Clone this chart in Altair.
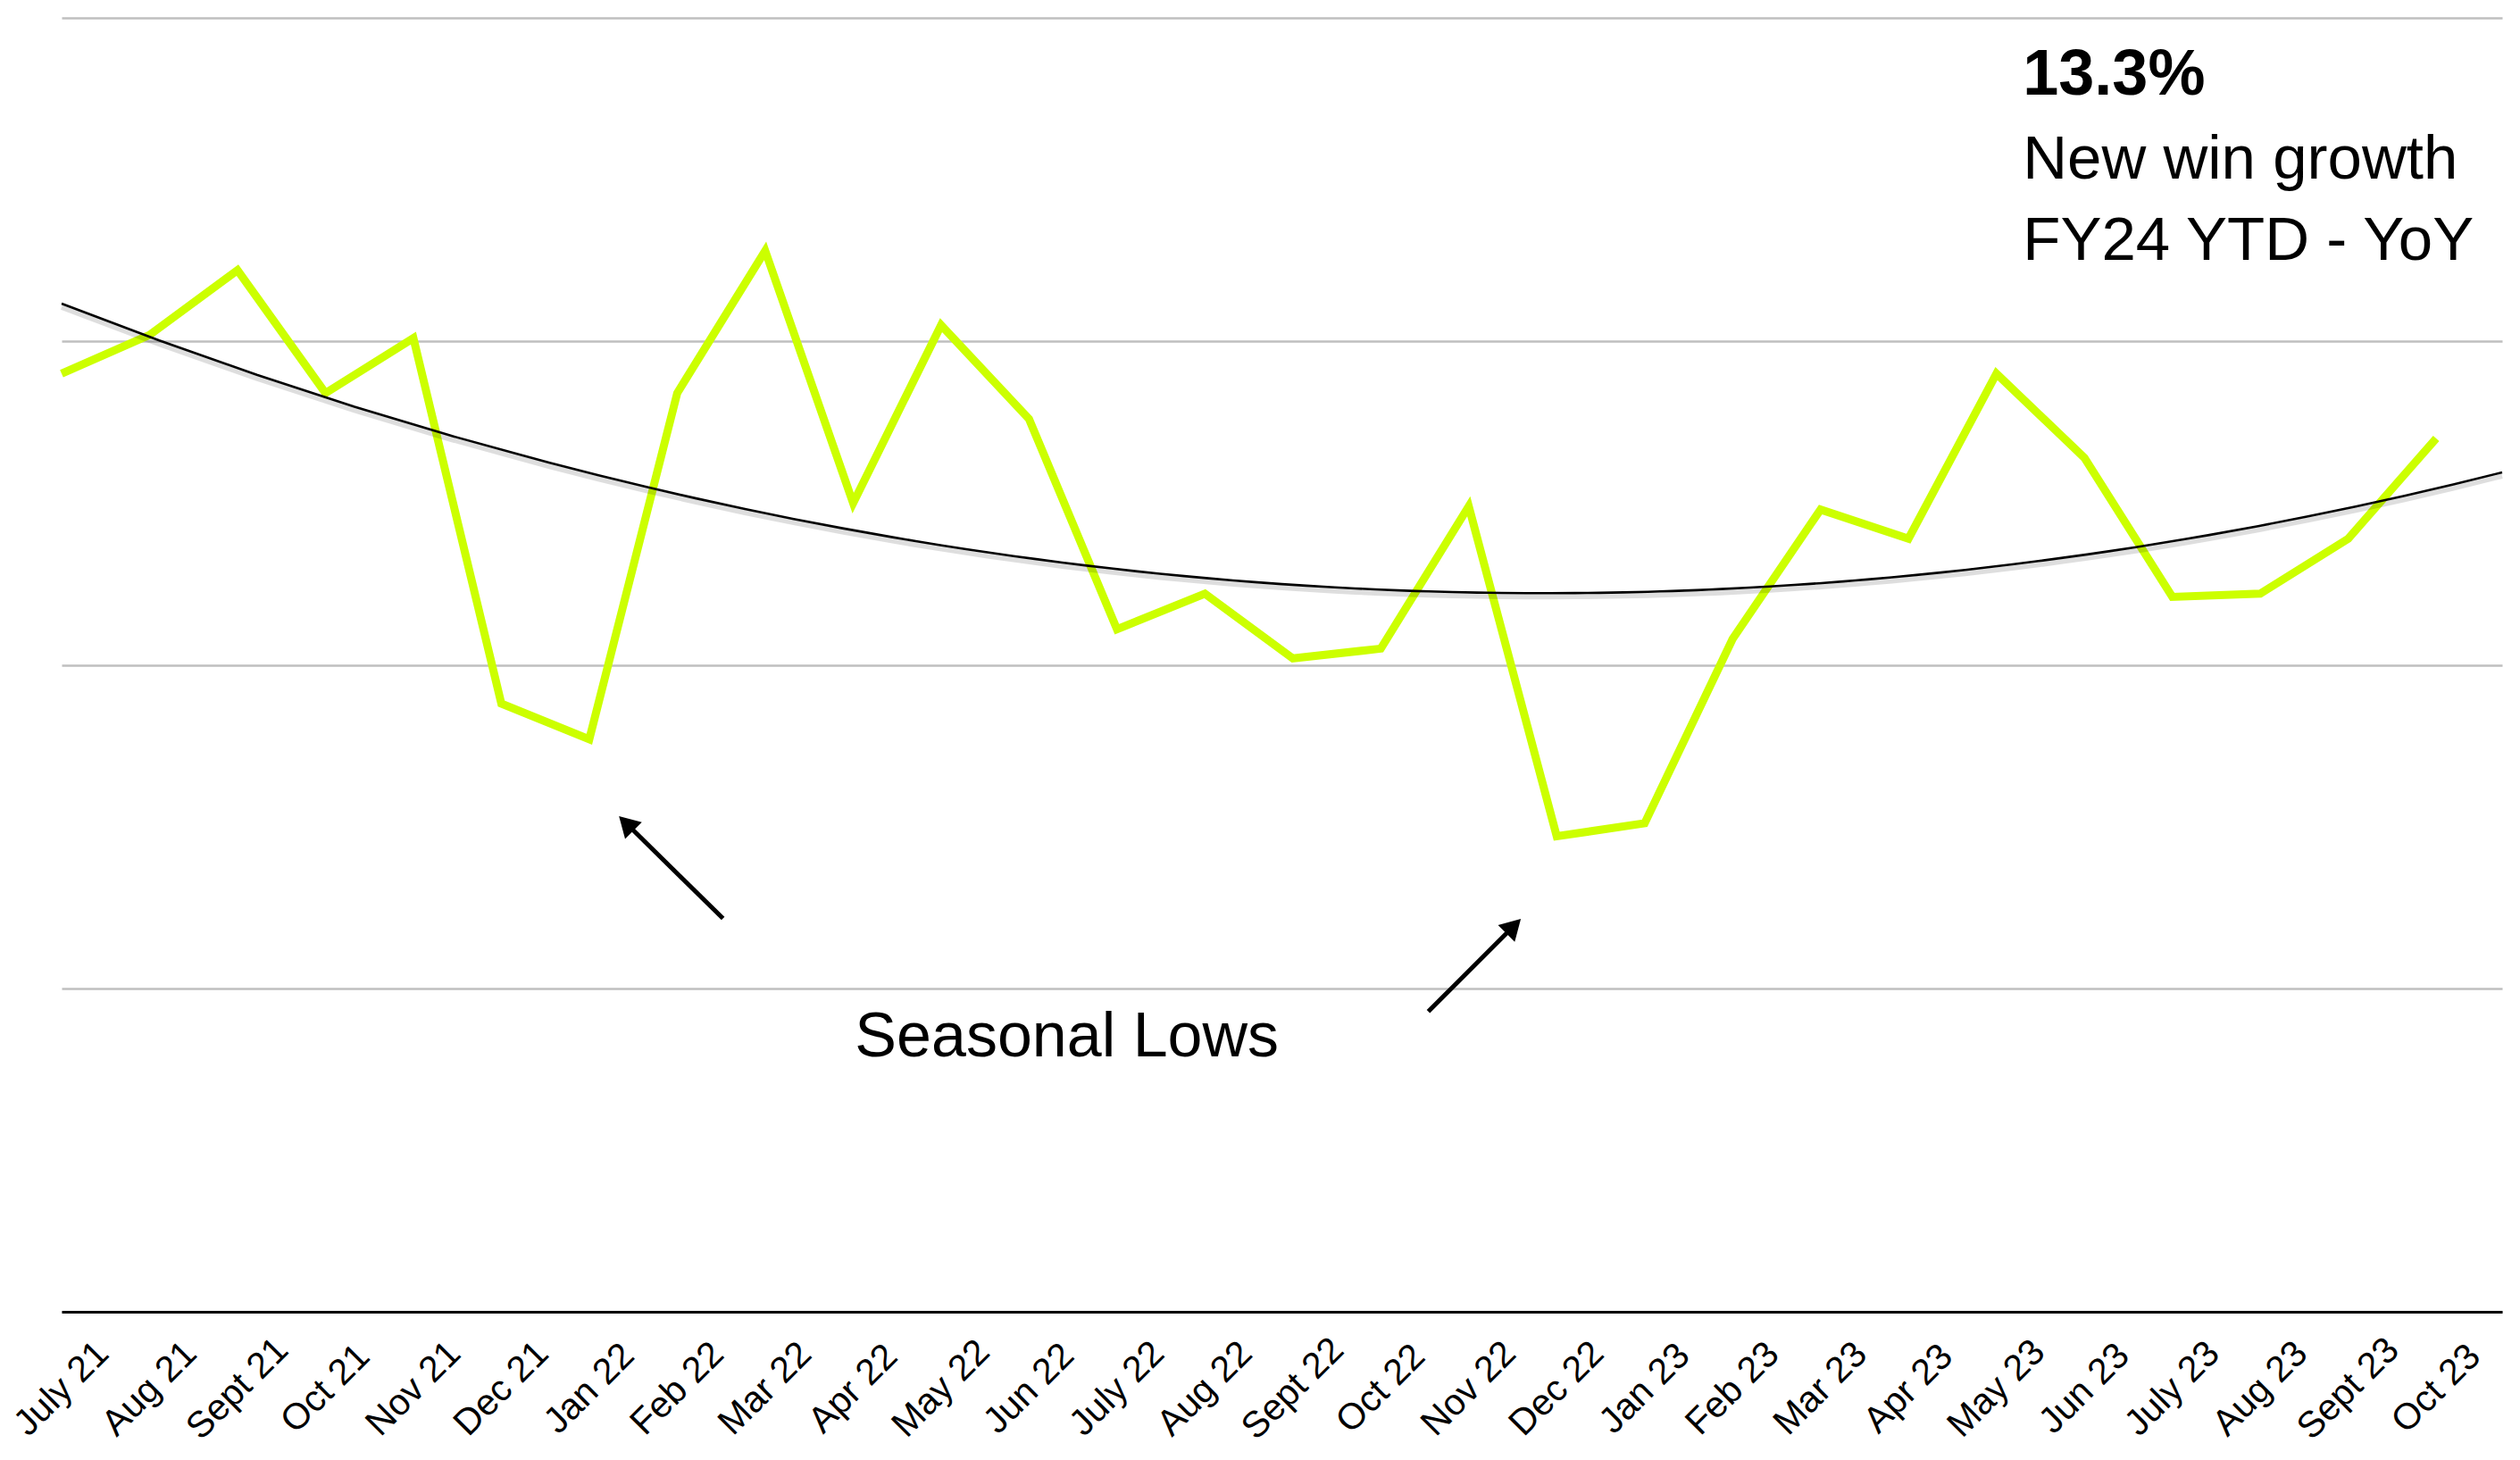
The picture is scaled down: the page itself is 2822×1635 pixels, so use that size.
import altair as alt
import pandas as pd

months = ["July 21", "Aug 21", "Sept 21", "Oct 21", "Nov 21", "Dec 21", "Jan 22",
          "Feb 22", "Mar 22", "Apr 22", "May 22", "Jun 22", "July 22", "Aug 22",
          "Sept 22", "Oct 22", "Nov 22", "Dec 22", "Jan 23", "Feb 23", "Mar 23",
          "Apr 23", "May 23", "Jun 23", "July 23", "Aug 23", "Sept 23", "Oct 23"]
win_growth = [2.90, 3.02, 3.22, 2.84, 3.01, 1.88, 1.77, 2.84, 3.28, 2.50, 3.05, 2.76,
              2.11, 2.22, 2.02, 2.05, 2.49, 1.47, 1.51, 2.08, 2.48, 2.39, 2.90, 2.64,
              2.21, 2.22, 2.39, 2.70]
y_ticks = [0, 1, 2, 3, 4]

# annotation anchors (data units)
arrow_tail_x = [7.52, 15.54]
arrow_tail_y = [1.216, 0.928]
arrow_head_x = [6.42, 16.51]
arrow_head_y = [1.510, 1.192]
arrow_angle = [315, 45]
note_lines = ["13.3%", "New win growth", "FY24 YTD - YoY"]
note_y = [3.762, 3.502, 3.253]
note_x = 22.30
lows_text = "Seasonal Lows"
lows_x, lows_y = 9.02, 0.789

X_MAX = 27.75
FONT = "Liberation Sans"

df = pd.DataFrame({"i": list(range(len(months))), "v": win_growth, "m": months})
arrows = pd.DataFrame({"x": arrow_tail_x, "y": arrow_tail_y, "x2": arrow_head_x,
                       "y2": arrow_head_y, "a": arrow_angle})
notes = pd.DataFrame({"t": note_lines, "y": note_y, "x": [note_x] * 3,
                      "w": ["bold", "normal", "normal"]})
lows = pd.DataFrame({"t": [lows_text], "x": [lows_x], "y": [lows_y]})

label_expr = "[" + ",".join("'" + m + "'" for m in months) + "][datum.value]"

xs = alt.Scale(domain=[0, X_MAX], nice=False, zero=False)
ys = alt.Scale(domain=[0, 4], nice=False)

x_axis = alt.Axis(values=list(range(len(months))), labelExpr=label_expr, labelAngle=-45,
                  labelAlign="center", labelBaseline="middle", labelPadding=86,
                  ticks=False, grid=False, domainColor="black", domainWidth=3,
                  labelFontSize=41, labelFont=FONT, labelColor="black", title=None,
                  labelOverlap=False, labelFlush=False, zindex=1)
y_axis = alt.Axis(values=y_ticks, grid=True, gridColor="#BFBFBF", gridWidth=2.5,
                  labels=False, ticks=False, domain=False, title=None)

base = alt.Chart(df)

line = base.mark_line(color="#CCFF00", strokeWidth=9, strokeJoin="miter").encode(
    x=alt.X("i:Q", scale=xs, axis=x_axis),
    y=alt.Y("v:Q", scale=ys, axis=y_axis),
)

trend_base = base.transform_regression("i", "v", method="poly", order=2,
                                       extent=[0, X_MAX], groupby=[])
shadow = trend_base.transform_calculate(vs="datum.v - 0.011").mark_line(
    color="black", opacity=0.13, strokeWidth=6
).encode(x=alt.X("i:Q", scale=xs), y=alt.Y("vs:Q", scale=ys))
trend = trend_base.mark_line(color="black", strokeWidth=2.6).encode(
    x=alt.X("i:Q", scale=xs), y=alt.Y("v:Q", scale=ys))

arrow_shaft = alt.Chart(arrows).mark_rule(color="black", strokeWidth=5).encode(
    x=alt.X("x:Q", scale=xs), y=alt.Y("y:Q", scale=ys), x2="x2:Q", y2="y2:Q")
arrow_head = alt.Chart(arrows).mark_point(shape="triangle-up", filled=True, size=700,
                                          color="black", opacity=1).encode(
    x=alt.X("x2:Q", scale=xs), y=alt.Y("y2:Q", scale=ys),
    angle=alt.Angle("a:Q", scale=None))

note_bold = alt.Chart(notes[notes.w == "bold"]).mark_text(
    align="left", baseline="alphabetic", font=FONT, fontSize=72, fontWeight="bold",
    color="black").encode(x=alt.X("x:Q", scale=xs), y=alt.Y("y:Q", scale=ys), text="t:N")
note_norm = alt.Chart(notes[notes.w == "normal"]).mark_text(
    align="left", baseline="alphabetic", font=FONT, fontSize=69,
    color="black").encode(x=alt.X("x:Q", scale=xs), y=alt.Y("y:Q", scale=ys), text="t:N")
lows_mark = alt.Chart(lows).mark_text(
    align="left", baseline="alphabetic", font=FONT, fontSize=70,
    color="black").encode(x=alt.X("x:Q", scale=xs), y=alt.Y("y:Q", scale=ys), text="t:N")

chart = alt.layer(line, shadow, trend, arrow_shaft, arrow_head, note_bold, note_norm,
                  lows_mark).properties(
    width=2806, height=1612, background="white",
    autosize=alt.AutoSizeParams(type="fit", contains="padding"),
    padding={"left": 0, "top": 12, "right": 0, "bottom": 0},
).configure_view(stroke=None)

chart.save("out.html", embed_options={"renderer": "svg", "actions": False})
